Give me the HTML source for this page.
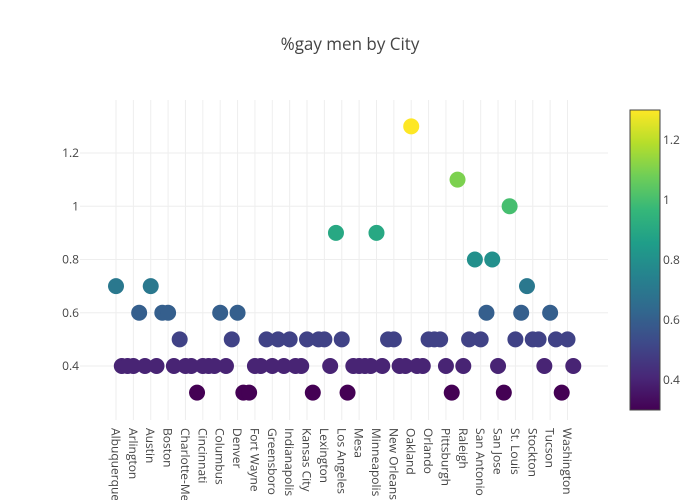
<!DOCTYPE html>
<html>
<head>
<meta charset="utf-8">
<style>
  html,body{margin:0;padding:0;background:#fff;}
  svg{display:block;font-family:"Open Sans","Liberation Sans",sans-serif;}
</style>
</head>
<body>
<svg id="chart" width="700" height="500" viewBox="0 0 700 500" xmlns="http://www.w3.org/2000/svg">
  <defs>
    <linearGradient id="viridis" x1="0" y1="1" x2="0" y2="0">
      <stop offset="0" stop-color="#440154"/>
      <stop offset="0.111" stop-color="#482878"/>
      <stop offset="0.222" stop-color="#3e4989"/>
      <stop offset="0.333" stop-color="#31688e"/>
      <stop offset="0.444" stop-color="#26828e"/>
      <stop offset="0.556" stop-color="#1f9e89"/>
      <stop offset="0.667" stop-color="#35b779"/>
      <stop offset="0.778" stop-color="#6ece58"/>
      <stop offset="0.889" stop-color="#b5de2b"/>
      <stop offset="1" stop-color="#fde725"/>
    </linearGradient>
  </defs>
  <rect width="700" height="500" fill="#fff"/>
  <text x="350" y="50" text-anchor="middle" font-size="17" fill="#444">%gay men by City</text>
  <g id="grid"></g>
  <g id="yticks"></g>
  <g id="xticks"></g>
  <g id="points"></g>
  <g id="colorbar">
    <rect x="630" y="110" width="30" height="300" fill="url(#viridis)" stroke="#444" stroke-width="1"/>
  </g>
</svg>
<script>
const cities = ["Albuquerque","Anaheim","Anchorage","Arlington","Atlanta","Aurora","Austin","Bakersfield","Baltimore","Boston","Buffalo","Chandler","Charlotte-Mecklenburg","Chicago","Chula Vista","Cincinnati","Cleveland","Colorado Springs","Columbus","Corpus Christi","Dallas","Denver","Detroit","El Paso","Fort Wayne","Fort Worth","Fresno","Greensboro","Henderson","Houston","Indianapolis","Jacksonville","Jersey City","Kansas City","Laredo","Las Vegas","Lexington","Lincoln","Long Beach","Los Angeles","Louisville","Memphis","Mesa","Miami","Milwaukee","Minneapolis","Nashville","Newark","New Orleans","New York","Norfolk","Oakland","Oklahoma City","Omaha","Orlando","Philadelphia","Phoenix","Pittsburgh","Plano","Portland","Raleigh","Riverside","Sacramento","San Antonio","San Diego","San Francisco","San Jose","Santa Ana","Seattle","St. Louis","St. Paul","St. Petersburg","Stockton","Tampa","Toledo","Tucson","Tulsa","Virginia Beach","Washington","Wichita"];
const values = [0.7,0.4,0.4,0.4,0.6,0.4,0.7,0.4,0.6,0.6,
                0.4,0.5,0.4,0.4,0.3,0.4,0.4,0.4,0.6,0.4,
                0.5,0.6,0.3,0.3,0.4,0.4,0.5,0.4,0.5,0.4,
                0.5,0.4,0.4,0.5,0.3,0.5,0.5,0.4,0.9,0.5,
                0.3,0.4,0.4,0.4,0.4,0.9,0.4,0.5,0.5,0.4,
                0.4,1.3,0.4,0.4,0.5,0.5,0.5,0.4,0.3,1.1,
                0.4,0.5,0.8,0.5,0.6,0.8,0.4,0.3,1.0,0.5,
                0.6,0.7,0.5,0.5,0.4,0.6,0.5,0.3,0.5,0.4];
const yTicks = [0.4,0.6,0.8,1,1.2];
const yTickLabels = ["0.4","0.6","0.8","1","1.2"];
const cbTicks = [0.4,0.6,0.8,1,1.2];
const cbTickLabels = ["0.4","0.6","0.8","1","1.2"];
const cmin = 0.3, cmax = 1.3;

const NS = "http://www.w3.org/2000/svg";
function xPos(i){ return 116 + i * 5.7885; }
function yPos(v){ return 366 - (v - 0.4) * 266.25; }
function cbY(v){ return 410 - (v - cmin) / (cmax - cmin) * 300; }
const stops = [[68,1,84],[72,40,120],[62,73,137],[49,104,142],[38,130,142],[31,158,137],[53,183,121],[110,206,88],[181,222,43],[253,231,37]];
function viridis(v){
  let t = Math.max(0, Math.min(1, (v - cmin) / (cmax - cmin))) * (stops.length - 1);
  const k = Math.min(Math.floor(t), stops.length - 2), f = t - k;
  const c = stops[k].map((a, j) => Math.round(a + (stops[k+1][j] - a) * f));
  return "rgb(" + c.join(",") + ")";
}
function mk(tag, attrs, parent){
  const el = document.createElementNS(NS, tag);
  for (const k in attrs) el.setAttribute(k, attrs[k]);
  parent.appendChild(el);
  return el;
}
const grid = document.getElementById("grid");
const yt = document.getElementById("yticks");
const xt = document.getElementById("xticks");
const pts = document.getElementById("points");
const cb = document.getElementById("colorbar");

yTicks.forEach((v, k) => {
  const l = mk("line", {x1: 80, x2: 608, y1: yPos(v), y2: yPos(v), stroke: "#eee", "stroke-width": 1}, grid);
  
  
  const t = mk("text", {x: 79, y: yPos(v) + 4, "text-anchor": "end", "font-size": 12, fill: "#444"}, yt);
  t.textContent = yTickLabels[k];
  
  
});
cities.forEach((c, i) => {
  if (i % 3 !== 0) return;
  const x = xPos(i);
  const l = mk("line", {x1: x, x2: x, y1: 100, y2: 420, stroke: "#eee", "stroke-width": 1}, grid);
  
  
  const t = mk("text", {x: 0, y: 0, "font-size": 12, fill: "#444", transform: "translate(" + (x - 4.5) + ",428) rotate(90)"}, xt);
  t.textContent = c.length > 12 ? c.slice(0, 12) : c;
  
  
});
values.forEach((v, i) => {
  if (v === null) return;
  const p = mk("circle", {cx: xPos(i), cy: yPos(v), r: 8, fill: viridis(v)}, pts);
  
  
});
cbTicks.forEach((v, k) => {
  const t = mk("text", {x: 663, y: cbY(v) + 4, "font-size": 12, fill: "#444"}, cb);
  t.textContent = cbTickLabels[k];
  
  
});
</script>
</body>
</html>
